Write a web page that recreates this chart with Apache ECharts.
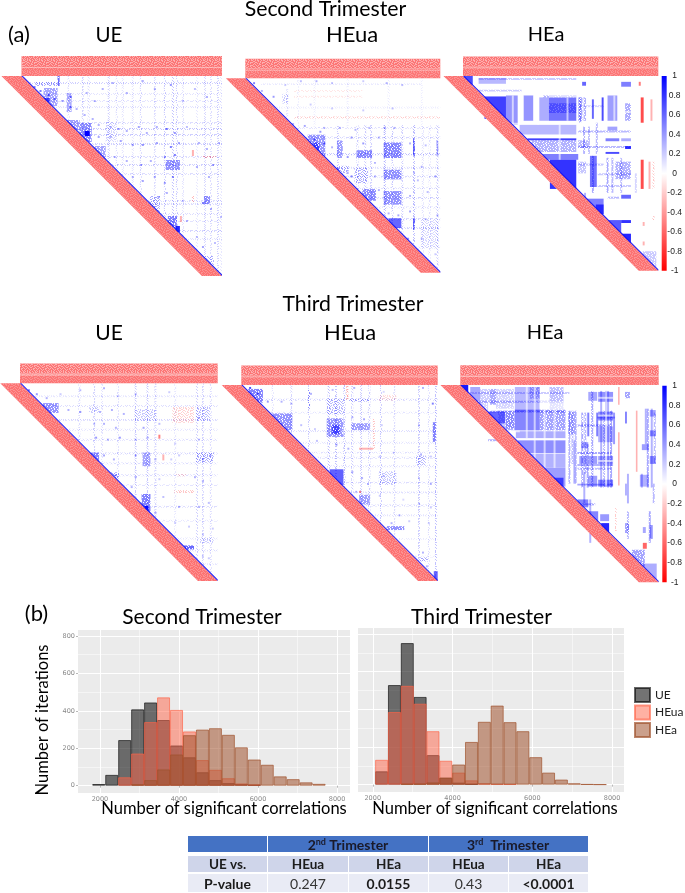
<!DOCTYPE html>
<html><head><meta charset="utf-8"><style>html,body{margin:0;padding:0;background:#fff}#main{width:685px;height:893px;filter:blur(.55px)}</style>
<script src="https://cdn.jsdelivr.net/npm/echarts@6/dist/echarts.min.js"></script></head><body><div id="main"></div>
<script>
// ---- correlation matrix content: [colFrom,colTo,rowFrom,rowTo,value], column stripes [col,value,rowFrom,rowTo], row stripes [row,value,colFrom,colTo], dots [col,row,value]
const ue2Cols=[[23,.1],[30,.13],[33,.1],[43,.14],[47,.1],[50,.08],[55,.08],[59,.12],[66,.1],[71,.15],[75,.18],[77,.14],[80,.08],[87,.07],[91,.12],[94,.1],[97.5,.13],[99,.07]];
const ue2Rows=[[3,.14],[8.5,.08],[12,.08],[15,.08],[23,.1],[26,.16],[29,.14],[33.5,.13],[40,.1],[44,.14],[48.5,.1],[62,.1],[63.5,.1],[68.5,.1],[72,.08],[77,.12],[81,.08]];
const ue2Cells=[[42,47,23,33,.12],[22.5,25,8.5,18,.28],[11,18,6,15,.3],[11,14,11,13,.7],[22,29,22,27,.32],[29,35,23.5,33,.38],[31.5,34,27.5,30,1],[36,42,35,42,.3],[72,79,42,47,.36],[73,77.5,70,78,.42],[77,79,75,78,.85],[64,69,60,68,.24],[91,94,60,64,.38],[91,96,90,95,.22],[18,19,0,5,.5],[7,18,3,5,.25],[85,86,37,40,-.3],[90,97,40,41,-.22],[79,80,70,73,-.3],[85,86,60,63,-.22]];
const ue2Dots=[[6,5,.5],[9,7,.5],[13,9,.6],[16,11,.5],[20,12,.4],[24,10,.5],[24,15,.5],[27,16,.3],[31,19,.3],[35,21,.3],[38,24,.3],[44,25,.3],[48,26,.35],[52,27,.3],[58,25,.35],[62,28,.3],[67,25,.3],[72,26,.5],[76,28,.4],[82,25,.25],[38,30,.35],[44,30,.3],[49,32,.35],[55,34,.35],[60,34,.4],[67,33,.35],[74,35,.5],[78,33,.35],[88,33,.3],[92,36,.3],[98,33,.3],[46,40,.3],[52,42,.3],[59,44,.35],[64,42,.3],[71,40,.4],[76,39,.5],[87,45,.3],[95,44,.35],[55,50,.3],[60,52,.35],[66,50,.35],[71,53,.35],[75,50,.45],[93,50,.3],[68,60,.35],[72,58,.3],[80,62,.25],[90,63,.5],[94,66,.3],[99,70,.25],[82,72,.3],[87,80,.25],[90,85,.35],[96,83,.25],[40,6,.3],[45,3,.3],[52,8,.3],[60,2,.3],[66,6,.3],[74,4,.4],[80,12,.25],[86,6,.25],[92,10,.3],[32,8,.3],[36,12,.3]];
const heua2Cols=[[21,.08,5,21],[26.5,.05],[47,.14,24,47],[57,.15,24,57],[61,.15,24,61],[64,.13,24,64],[71,.22,24,71],[75,.16,24,75],[80,.14,24,80],[86,.2,24,86],[90.5,.09,24,90],[94,.09,24,94],[98,.15,24,98],[35,.05,0,25],[52,.05,0,25],[73,.06,0,25],[90,.05,0,25]];
const heua2Rows=[[2.5,.06,8,90],[14.5,.05],[25,.1],[30,.12],[38.6,.2],[45.5,.1],[50,.12],[56,.09],[61,.13],[66,.08],[72,.14],[76.5,.12],[86.6,.08],[19.7,-.15,25,100],[6,-.07,25,60],[9,-.07,25,60]];
const heua2Cells=[[19,22,8,13,.15],[32,41,29,40,.34],[35,38,33,38,.5],[47,50,32,41,.32],[57,65,37,41,.38],[71,80,33,41,.4],[86,87,31,40,.5],[98,99,32,40,.3],[56,63,46,54,.22],[71,80,47,52,.36],[60,67,57,63,.38],[71,80,58,65,.36],[73.5,80,72,77,.6],[86,87,72,78,.5],[90,99,73,87,.11],[47,53,45,49,.24]];
const heua2Dots=[[4,2,.5],[8,6,.3],[14,9,.4],[20,3,.2],[28,1,.25],[36,1,.3],[44,2,.25],[60,1,.2],[72,2,.3],[80,3,.25],[33,13,.2],[44,15,.2],[60,16,.2],[75,15,.25],[24,23,.3],[30,24,.35],[40,25,.3],[48,25,.3],[56,26,.3],[63,25,.25],[71,25,.4],[76,25,.3],[35,31,.6],[40,33,.6],[38,27,.4],[44,35,.3],[54,30,.4],[60,33,.4],[68,30,.3],[84,33,.3],[92,34,.25],[52,40,.4],[66,43,.3],[90,45,.3],[97,50,.4],[86,48,.3],[47,46,.5],[52,48,.3],[66,50,.3],[88,52,.25],[54,50,.5],[68,57,.3],[84,60,.3],[93,58,.25],[66,68,.4],[73,69,.3],[78,70,.35],[84,68,.35],[92,72,.3],[98,70,.3],[77,80,.3],[83,82,.4],[90,82,.3],[97,90,.2],[92,92,.2]];
const hea2Cols=[[66,.6,12,22],[71,.7,11,23],[96,-.3,12,23],[95,-.3,44,58],[97,-.16,44,58],[90,-.3,3,5],[62,.3,60,66],[59.5,.25,11,24],[61.5,.22,26,40],[64,.18,26,40],[68,.2,24,40],[66,.25,41,60],[76,.2,42,60],[73.5,.25,42,60],[80.5,.18,42,60],[88,.12,50,60]];
const hea2Rows=[[15,.12,59,72],[45,.16,59,72],[28,.2,59,86],[36,.2,59,86],[50,.15,69,86],[56,.15,69,86],[62,.2,74,80],[10,.22,41,58],[7,.15,8,30],[1,.15,8,58]];
const hea2Cells=[[.5,5,0,4.5,.7],[8,22,1,4,.28],[11,22,10.5,22,.75],[22,28,10,25,.42],[31,36,10,23,.42],[39,44,11,23,.32],[44,58,11,23,.55],[44,58,14,19,.25],[29,58,25,30,.28],[33,58,32,33,.75],[35,58,33,39,.22],[41,59,40,43,.5],[44.5,58,43,58,.8],[65,68.5,41,57,.55],[74,79,10,23,.38],[83,86,14,23,.24],[78,86,44,53,.22],[83,86,36,37.5,.8],[73,80,39,40,.7],[59,63,11,23,.22],[63,72,63,71,.5],[68,72,66,71,.7],[74,81,74,81,.65],[81,86,74,75.5,.8],[81,86,81,86,.85],[81,86,61,63,.6],[81,86,3,5.5,.5],[61,63,3,5,.6],[74,79,26,28,.36],[73,80,32,33.5,.5],[81,86,32,33.5,.32],[59,64,33,37,.2],[59,63,44,50,.16],[92,99,90,98,.15],[91,92.5,11,24,-.7],[91,92.5,43,58,-.7],[92,93,75,77,-.3],[92,93,85,87,-.3],[97,98,72,74,-.2],[90,91,3,5,-.3],[22,58,24,25,0],[29,58,31,32,0],[35,59,39,40,0],[28.5,29.5,10,25,0],[38,39,10,25,0],[29,31,10,23,0],[36,39,10,23,0],[44,58,10,11,0],[25,26,10,25,0],[53,54,11,23,0],[49,50,25,43,0],[77,78,10,23,0],[61,62,11,23,0],[83,86,18,19,0]];
const ue3Cols=[[29.5,.1],[37,.13],[41,.08],[49,.1],[58,.15],[64,.16],[68,.12],[78,.07],[89,.14],[92,.12],[96,.1]];
const ue3Rows=[[6,.07],[11,.1],[18,.12],[23,.08],[28,.1],[35,.12],[40,.1],[46,.1],[51,.08],[62,.1],[69,.07],[78,.07],[84,.1],[91,.07]];
const ue3Cells=[[11,19.5,10,15,.36],[35,40,35,40,.4],[61.5,66,56,66,.42],[63,65,62,65,.95],[58,69,13,19,.16],[35,40,12,15,.16],[62,66,35,42,.3],[89,98,35,40,.24],[89,96,12,19,.2],[83,88,82,84,.5],[91,98,78,81,.14],[46,50,45,48,.26],[77,88,12,20,-.13],[70,71,26,28,-.5],[72,73,36,39,-.3],[78,88,54,55.5,-.16],[79,84,46,47,-.16]];
const ue3Dots=[[4,3,.5],[8,5,.4],[13,7,.3],[20,5,.2],[30,3,.25],[42,2,.3],[49,6,.25],[58,5,.3],[75,4,.2],[24,13,.3],[30,14,.4],[40,14,.3],[46,13,.3],[52,15,.3],[37,20,.25],[42,20,.3],[48,22,.3],[62,22,.35],[70,20,.25],[90,17,.3],[38,27,.4],[44,28,.3],[50,27,.4],[58,28,.3],[64,27,.35],[78,30,.2],[90,28,.25],[42,36,.35],[47,38,.3],[58,36,.4],[68,38,.3],[76,38,.2],[80,36,.2],[92,38,.35],[96,36,.3],[48,46,.4],[58,47,.35],[70,48,.2],[88,47,.3],[92,49,.3],[56,52,.3],[72,57,.25],[80,62,.3],[90,62,.3],[95,60,.25],[68,65,.35],[78,70,.2],[72,74,.3],[85,72,.2],[92,76,.2],[97,73,.2],[95,88,.2],[92,87,.2]];
const heua3Cols=[[15.5,.09],[25,.12],[34,.15],[44,.2],[47.7,.18],[52,.2],[56,.15],[60.5,.15],[64.7,.15],[70.6,.15],[77.4,.1],[90,.15],[95,.1],[98.6,.18],[53.5,-.25,0,8],[67,-.18,17,33]];
const heua3Rows=[[7,.12],[13.6,.08],[23,.1],[29,.08],[34,.09],[36.6,.09],[41,.09],[49.3,.1],[54.4,.09],[61,.1],[66,.08],[78,.06],[87,.06]];
const heua3Cells=[[3.5,11,2,9,.42],[15,26,14.5,23,.36],[43.5,52,17,26.5,.34],[46,50,20.5,25,.45],[43.5,52,7,15,.2],[45,52,43,51,.62],[56,65.5,19.5,23,.32],[60,65.5,56,61,.32],[55,65,7,8.5,.22],[74,83,72,74,.36],[91,95,88,90,.26],[98,100,95,100,.6],[97.5,99,19,29,.42],[89,94,36,41,.2],[70,79,44,51,.16],[34,35,2,12,.26],[60,61,54,55,-.5],[70,79,5,8,-.1],[60,67,32,33,-.3]];
const heua3Dots=[[4,1,.7],[8,4,.6],[13,8,.4],[20,8,.3],[25,9,.3],[35,4,.3],[46,2,.25],[57,1,.3],[72,3,.15],[92,1,.3],[97,9,.5],[30,20,.25],[37,22,.2],[56,16,.3],[62,17,.35],[71,20,.2],[90,20,.25],[38,28,.25],[48,30,.3],[54,32,.3],[70,36,.2],[77,34,.15],[91,35,.3],[96,36,.2],[56,44,.35],[61,47,.3],[64,50,.3],[72,46,.25],[90,47,.25],[96,50,.3],[58,54,.3],[70,56,.2],[82,58,.15],[90,60,.25],[96,62,.2],[80,66,.3],[76,70,.3],[85,69,.2],[95,70,.2],[92,85,.3],[94,92,.3]];
const hea3Cols=[[54.5,.22,13,50],[56,.18,13,40],[57.7,.18,13,50],[61,.25,14,52],[62.5,.2,14,45],[63.7,.25,30,52],[66,.25,3,52],[70.5,.3,3,52],[72,.2,13,52],[74,.3,3,52],[75.5,.25,13,52],[91,.3,45,52],[94,.25,12,52],[96,.3,12,52],[97.5,.2,14,40],[84,.3,45,60],[65,.3,58,80],[64,.5,14,26],[68.5,.5,14,26],[73,.4,3,18],[77,.4,14,30],[62,.3,44,60],[57,.3,28,50],[93,.3,12,30],[83,.3,50,56],[97,.2,50,60],[95,.25,64,80],[84,.2,64,78]];
const hea3Rows=[[3.5,.15,5,55],[8,.2,5,52],[13,.25,15,53],[40,.3,59,77],[50,.35,59,77],[16,.35,69,78],[60,.25,59,68],[20,.22,59,76],[34,.25,59,76],[42,.18,59,76],[27.5,.22,14,28]];
const hea3Cells=[[0,4,0,5,.9],[5,10,1,8,.34],[10,15,2,8,.14],[18,27,2,12,.12],[19,27,13,22,.16],[5,14,8,13,.12],[15,18,2,10,.24],[27.5,40,1,13.5,.28],[35,40,1,7,.2],[45,52,1,12,.18],[14,22.5,13.5,19.5,.6],[27.5,40,12.5,23,.48],[40,53,12.5,23,.26],[23,27.5,14,23,.22],[28,53,23.5,27,.32],[29,53,28,34.5,.44],[35,53,34.5,42,.3],[42,53,42,51.5,.38],[47,52,47,51.5,.62],[54.5,58,13.5,25,.22],[69.5,77,13.5,18,.44],[69.5,77,3.5,8.5,.42],[64.5,69,3.5,8,.34],[69.5,77,21,29,.3],[69.5,77,36,40,.38],[69.5,77,48,51.5,.46],[61,64.5,29,32,.38],[60,64,36,40,.36],[64.5,69,36,40,.38],[64.5,69,46,51.5,.38],[95.5,98.5,12.7,16,.36],[95.5,98.5,23,26,.44],[95.5,98.5,36,40,.44],[91.5,95,30,33,.38],[90.5,95,45.5,51.5,.3],[83,85.5,3.5,6.7,.26],[83,84,13.5,19.5,.48],[59,64.5,58,62,.48],[64.5,69.5,64,70,.48],[70.5,75,65.5,69,.4],[71,75,70,75,.85],[95.5,97,71,78,.42],[92,93.5,72,75,.34],[83,85,70,75,.26],[86.5,93,83.5,92,.26],[92,99,90.5,99,.32],[88.5,89.3,13,44,-.3],[79.5,80.3,1,10,-.3],[79.5,80.3,24,51,-.3],[92,94,80,83,-.6],[78,78.8,62,74,-.16],[14,30,23,24,0],[33,34,1,27,0],[42,43,12,42,0],[27.5,53,27,28,0],[28,53,34.5,35,0],[40,53,8,12,0],[37,38,1,51,0],[47,48,12,42,0],[69.5,77,15,16,0],[69.5,77,38,39,0],[69.5,77,6,7,0],[73,74,3,51,0]];
const panelCols=[ue2Cols,heua2Cols,hea2Cols,ue3Cols,heua3Cols,hea3Cols];
const panelRows=[ue2Rows,heua2Rows,hea2Rows,ue3Rows,heua3Rows,hea3Rows];
const panelCells=[ue2Cells,heua2Cells,hea2Cells,ue3Cells,heua3Cells,hea3Cells];
const panelDots=[ue2Dots,heua2Dots,[],ue3Dots,heua3Dots,[]];
const bandTopUpper=[[0,-10,100,-10,100,-5,0,-5]];
const bandTopLower=[[0,-5,100,-5,100,0,0,0]];
const bandDiag=[[0,0,-10,0,90,100,100,100]];
const lineDiag=[[0,0,.7,0,100,99.3,100,100]];
const bandRules=[[0,100,-4.4,-4,0]];
// ---- histograms
const binsSecond=[1970,2298,2626,2954,3282,3610,3938,4266,4594,4922,5250,5578,5906,6234,6562,6890,7218,7546];
const ueSecond=[9,58,244,408,445,351,215,152,72,30,14,9,4,null,null,null,null,null];
const heuaSecond=[null,null,45,172,340,472,405,290,137,85,40,12,7,null,null,null,null,null];
const heaSecond=[null,null,null,8,30,87,167,270,300,307,272,205,140,112,50,35,18,10];
const binsThird=[2222,2544,2866,3188,3510,3832,4154,4476,4798,5120,5442,5764,6086,6408,6730,7052,7374,7696];
const ueThird=[71,529,752,466,157,37,11,3,null,null,null,null,null,null,null,null,null,null];
const heuaThird=[132,386,525,430,284,127,64,23,7,3,2,null,null,null,null,null,null,null];
const heaThird=[null,null,4,5,12,37,107,227,334,420,332,284,146,64,27,7,2,1];
const seriesNames=['UE','HEua','HEa'];
const xTicks=[2000,4000,6000,8000],xMinor=[3000,5000,7000];
const yTicks=[0,200,400,600,800],yMinor=[100,300,500,700];
// ---- table
const tableTop=['','2','nd',' Trimester','3','rd','  Trimester'];
const tableHead=['UE vs.','HEua','HEa','HEua','HEa'];
const tableRow=['P-value','0.247','0.0155','0.43','<0.0001'];
const tableBold=[true,false,true,false,true];

// ---- layout
const panelBoxes=[[21.5,222,56,76,276],[245.3,440.3,58.3,78.3,272.7],[463,658.3,56.7,76,270.7],[20,217.7,364,383.3,581],[241.3,437.7,365.7,385,581],[460.3,658.7,365.7,385,582.3]];
const solidPanels=[false,false,true,false,false,true];
const speckMap=["#..#.##..#.#",".##...#.#...","#..##...#.##","..#..#.#..#.",".#.#...##...","#...#.#...##",".##..#..#.#.","...#..##...#","#.#.#....##.",".#...#.#.#..","#..#..#...#.",".#.#.#..#..#"];
const denseMap=["###.##.#####","#.####.##.##","####.#####.#",".##.####.###","####.##.####","#.#####.##.#","###.####.###","####.#.#####",".#####.##.##","###.#####.##","##.###.####.","#####.##.###"];
function tile(rgb,map){const c=document.createElement('canvas');c.width=c.height=12;const g=c.getContext('2d');g.fillStyle=rgb;map.forEach((row,y)=>{for(let x=0;x<12;x++)if(row[x]==='#')g.fillRect(x,y,1,1);});return c;}
const pat=(rgb,map)=>({image:tile(rgb,map),repeat:'repeat'});
const bluePat=pat('#0000ff',speckMap),blueDense=pat('#0000ff',denseMap),redPat=pat('#ff0000',speckMap);
const whiteLight=pat('rgba(255,255,255,.22)',speckMap),whiteHeavy=pat('rgba(255,255,255,.42)',speckMap);

function expand(i){
  const out=[];
  panelCols[i].forEach(s=>{out.push([s[0],s[0]+1,s[2]===undefined?0:s[2],s[3]===undefined?s[0]:s[3],s[1]]);});
  panelRows[i].forEach(s=>{out.push([s[2]===undefined?s[0]:s[2],s[3]===undefined?100:s[3],s[0],s[0]+1,s[1]]);});
  return out.concat(panelCells[i]);
}
function cellDrawer(solid){return function(p,api){
  const a=api.coord([api.value(0),api.value(2)]),b=api.coord([api.value(1),api.value(3)]),v=api.value(4);
  const av=Math.abs(v);let fill,op;
  if(v===0){fill='#fff';op=.6;}
  else if(av>=.6||(solid&&av>=.28)){fill=v>0?'#0000ff':'#ff0000';op=av;}
  else if(av>=.28){fill=v>0?blueDense:'#ff0000';op=v>0?Math.min(1,av*1.15):av;}
  else{fill=v>0?(solid?blueDense:bluePat):redPat;op=Math.min(1,av*1.35);}
  return {type:'rect',silent:true,shape:{x:a[0],y:a[1],width:b[0]-a[0],height:b[1]-a[1]},style:{fill:fill,opacity:op}};
};}
function drawDot(p,api){
  const a=api.coord([api.value(0),api.value(1)]),b=api.coord([api.value(0)+1,api.value(1)+1]);
  return {type:'rect',silent:true,shape:{x:a[0],y:a[1],width:b[0]-a[0],height:b[1]-a[1]},style:{fill:'#0000ff',opacity:api.value(2)}};
}
function polyDraw(fill,extra){return function(p,api){
  const pts=[];for(let k=0;k<8;k+=2)pts.push(api.coord([api.value(k),api.value(k+1)]));
  const kids=[{type:'polygon',silent:true,shape:{points:pts},style:{fill:fill}}];
  if(extra)kids.push({type:'polygon',silent:true,shape:{points:pts},style:{fill:extra}});
  return {type:'group',children:kids};
};}
const grids=[],xAxes=[],yAxes=[],series=[];
panelBoxes.forEach((b,i)=>{
  const w=b[1]-b[0],h=b[4]-b[3];
  grids.push({left:b[0]-w*.1,width:w*1.1,top:b[3]-h*.1,height:h*1.1});
  xAxes.push({type:'value',gridIndex:i,min:-10,max:100,show:false});
  yAxes.push({type:'value',gridIndex:i,min:-10,max:100,inverse:true,show:false});
  const common={type:'custom',xAxisIndex:i,yAxisIndex:i,coordinateSystem:'cartesian2d',silent:true,clip:false,animation:false,tooltip:{show:false},encode:{x:[0],y:[1]}};
  series.push(Object.assign({},common,{name:'cells'+i,z:2,data:expand(i),renderItem:cellDrawer(solidPanels[i]),encode:{x:[0,1],y:[2,3]}}));
  series.push(Object.assign({},common,{name:'dots'+i,z:2,data:panelDots[i],renderItem:drawDot}));
  series.push(Object.assign({},common,{name:'topU'+i,z:3,data:bandTopUpper,renderItem:polyDraw('#fc7676',whiteHeavy)}));
  series.push(Object.assign({},common,{name:'topL'+i,z:3,data:bandTopLower,renderItem:polyDraw('#fc7676',whiteLight)}));
  series.push(Object.assign({},common,{name:'rule'+i,z:4,data:bandRules,renderItem:cellDrawer(true),encode:{x:[0,1],y:[2,3]}}));
  series.push(Object.assign({},common,{name:'diag'+i,z:4,data:bandDiag,renderItem:polyDraw('#fc7272',whiteLight)}));
  series.push(Object.assign({},common,{name:'line'+i,z:5,data:lineDiag,renderItem:polyDraw('#1414f5')}));
});
// histograms
const histBoxes=[[78,350,630,793,1445,8328,binsSecond,[ueSecond,heuaSecond,heaSecond],true],[358,624,628,792,1630,8300,binsThird,[ueThird,heuaThird,heaThird],false]];
const fills=['rgba(0,0,0,.55)','rgba(255,99,71,.5)','rgba(160,82,45,.55)'];
const edges=['rgba(0,0,0,.6)','rgba(255,99,71,.65)','rgba(160,82,45,.7)'];
const labelStyle={fontFamily:'DejaVu Sans',fontSize:6.5,color:'#888',formatter:v=>String(v)};
histBoxes.forEach((h,n)=>{
  const gi=grids.length;
  grids.push({left:h[0],width:h[1]-h[0],top:h[2],height:h[3]-h[2],backgroundColor:'#ebebeb',show:true,borderWidth:0});
  const ax=xAxes.length,ay=yAxes.length;
  xAxes.push({type:'value',gridIndex:gi,min:h[4],max:h[5],axisLine:{show:false},axisTick:{customValues:xTicks,length:2,lineStyle:{color:'#888',width:.6}},axisLabel:Object.assign({customValues:xTicks,margin:3},labelStyle),splitLine:{show:true,lineStyle:{color:'#fff',width:1}}});
  xAxes.push({type:'value',gridIndex:gi,min:h[4],max:h[5],position:'top',axisLine:{show:false},axisTick:{show:false,customValues:xMinor},axisLabel:{show:false,customValues:xMinor},splitLine:{show:true,lineStyle:{color:'#fff',width:.5}}});
  yAxes.push({type:'value',gridIndex:gi,min:-39,max:832,axisLine:{show:false},axisTick:{show:h[8],customValues:yTicks,length:2,lineStyle:{color:'#888',width:.6}},axisLabel:Object.assign({show:h[8],customValues:yTicks,margin:3},labelStyle),splitLine:{show:true,lineStyle:{color:'#fff',width:1}}});
  yAxes.push({type:'value',gridIndex:gi,min:-39,max:832,position:'right',axisLine:{show:false},axisTick:{show:false,customValues:yMinor},axisLabel:{show:false,customValues:yMinor},splitLine:{show:true,lineStyle:{color:'#fff',width:.5}}});
  h[7].forEach((vals,k)=>{
    series.push({type:'bar',name:seriesNames[k],xAxisIndex:ax,yAxisIndex:ay,barWidth:13,barGap:'-100%',animation:false,
      itemStyle:{color:fills[k],borderColor:edges[k],borderWidth:1},
      data:vals.map((v,j)=>[h[6][j],v])});
  });
});
// colour bars
const barScale=[[-1,1]];
[[661.7,670,76,270.7],[662.3,670,385.7,582.3]].forEach((c,n)=>{
  const gi=grids.length;
  grids.push({left:c[0],width:c[1]-c[0],top:c[2],height:c[3]-c[2]});
  const ax=xAxes.length,ay=yAxes.length;
  xAxes.push({type:'value',gridIndex:gi,min:0,max:1,show:false});
  yAxes.push({type:'value',gridIndex:gi,min:-1,max:1,interval:.2,position:'right',axisLine:{show:false},axisTick:{show:false},splitLine:{show:false},
    axisLabel:{fontFamily:'Liberation Sans',fontSize:8.5,color:'#222',margin:8,align:'center',showMinLabel:true,showMaxLabel:true}});
  series.push({type:'custom',xAxisIndex:ax,yAxisIndex:ay,silent:true,animation:false,encode:{y:[0,1]},data:barScale,renderItem:function(p,api){
    const a=api.coord([0,api.value(1)]),b=api.coord([1,api.value(0)]);
    return {type:'rect',shape:{x:a[0],y:a[1],width:b[0]-a[0],height:b[1]-a[1]},style:{fill:new echarts.graphic.LinearGradient(0,0,0,1,[{offset:0,color:'#0000ff'},{offset:.5,color:'#ffffff'},{offset:1,color:'#ff0000'}])}};
  }});
});
// text
const F='Lato';
const texts=[
 ['Second Trimester',325.5,9,21.3],['(a)',19,35,22],['UE',109,35,20.5],['HEua',352,35,22],['HEa',546,35,20],
 ['Third Trimester',353,304,21.2],['UE',109,333,21],['HEua',350,333,22],['HEa',545,333,20],
 ['(b)',36.5,614,22],['Second Trimester',202,617,21],['Third Trimester',481.5,617,21.2],
 ['Number of significant correlations',224,809,16.5],['Number of significant correlations',495,809,16.5]];
const gfx=texts.map(t=>({type:'text',x:t[1],y:t[2],silent:true,style:{text:t[0],font:t[3]+'px '+F,fill:'#000',textAlign:'center',textVerticalAlign:'middle'}}));
gfx.push({type:'text',x:43,y:720,rotation:Math.PI/2,silent:true,style:{text:'Number of iterations',font:'16.5px '+F,fill:'#000',textAlign:'center',textVerticalAlign:'middle'}});
// table
const colX=[[188,267],[268,348],[349,428],[429,508],[509,588]];
function cell(x0,x1,y0,y1,c){gfx.push({type:'rect',silent:true,shape:{x:x0,y:y0,width:x1-x0,height:y1-y0},style:{fill:c}});}
cell(188,267,836,852,'#4472c4');cell(268,428,836,852,'#4472c4');cell(429,588,836,852,'#4472c4');
colX.forEach((c,i)=>{cell(c[0],c[1],856,872,'#cfd5ea');cell(c[0],c[1],874,892,'#e9ebf5');
  gfx.push({type:'text',x:(c[0]+c[1])/2,y:865,silent:true,style:{text:tableHead[i],font:'bold 13.5px '+F,fill:'#1c1c1c',textAlign:'center',textVerticalAlign:'middle'}});
  gfx.push({type:'text',x:(c[0]+c[1])/2,y:884,silent:true,style:{text:tableRow[i],font:(tableBold[i]?'bold ':'')+'14px '+F,fill:tableBold[i]?'#1c1c1c':'#333',textAlign:'center',textVerticalAlign:'middle'}});
});
[[348,tableTop[1],tableTop[2],tableTop[3]],[508,tableTop[4],tableTop[5],tableTop[6]]].forEach(t=>{
  gfx.push({type:'text',x:t[0],y:845,silent:true,style:{text:'{a|'+t[1]+'}{s|'+t[2]+'}{a|'+t[3]+'}',textAlign:'center',textVerticalAlign:'middle',
    rich:{a:{font:'bold 14px '+F,fill:'#1a1a2a',verticalAlign:'bottom'},s:{font:'bold 9px '+F,fill:'#1a1a2a',verticalAlign:'top',padding:[0,0,6,0]}}}});
});
const chart=echarts.init(document.getElementById('main'),null,{renderer:'canvas'});
chart.setOption({animation:false,backgroundColor:'#fff',grid:grids,xAxis:xAxes,yAxis:yAxes,series:series,graphic:{elements:gfx},
  legend:{data:seriesNames,icon:'rect',orient:'vertical',left:634,top:687,padding:0,itemWidth:15,itemHeight:14,itemGap:1.5,selectedMode:false,textStyle:{fontFamily:F,fontSize:12,color:'#222'}}});
</script></body></html>
